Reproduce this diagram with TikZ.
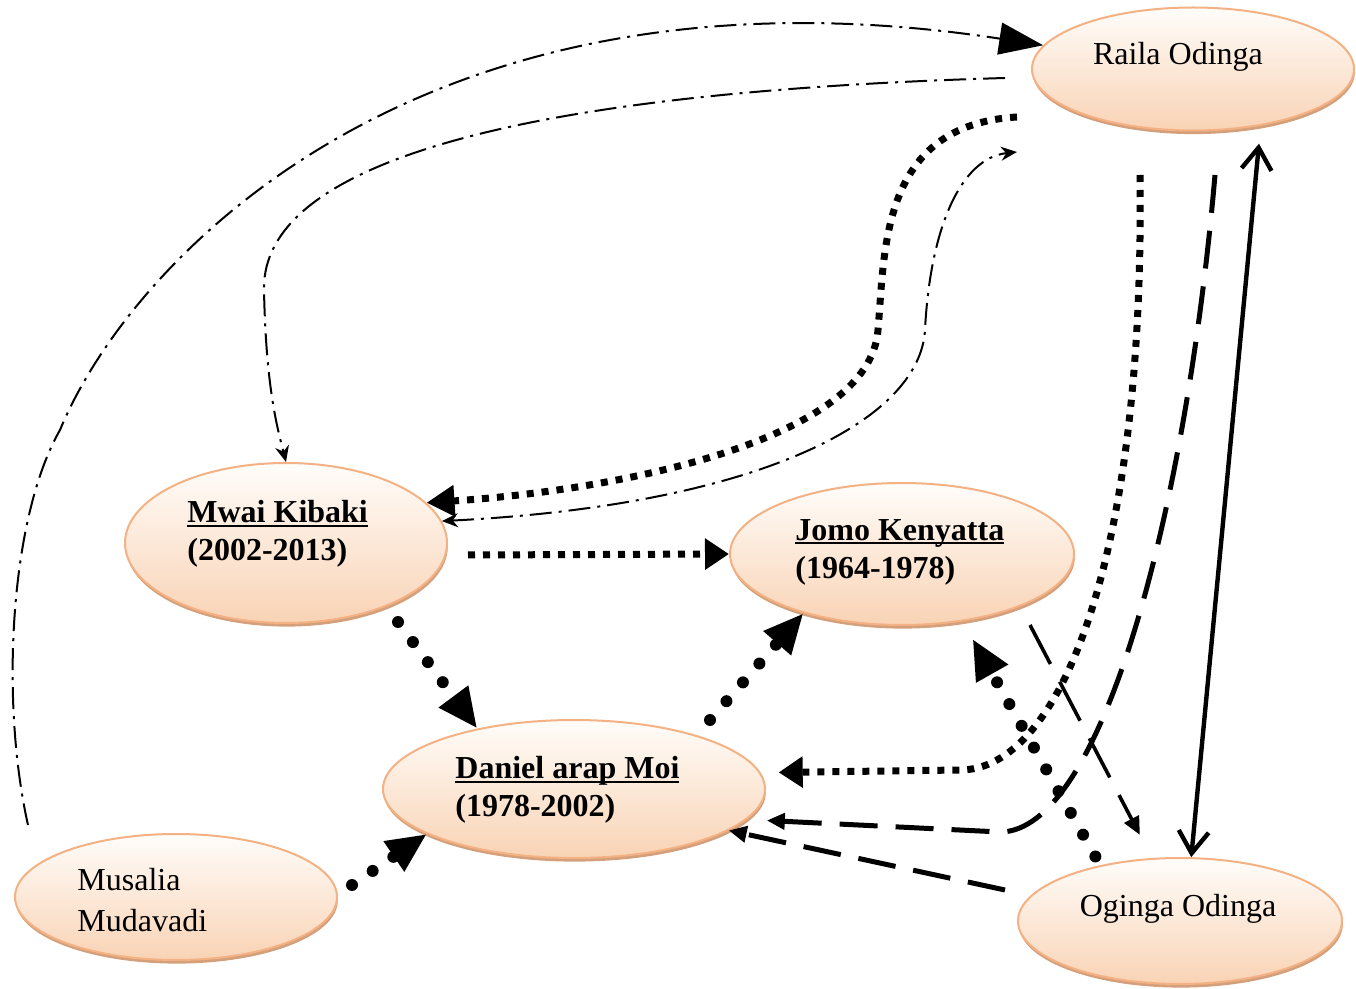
\documentclass[tikz,border=0pt]{standalone}
\usepackage{fontspec}
\setmainfont{Liberation Serif}
\usepackage{xcolor}
\usepackage{tikz}
\usetikzlibrary{shapes.geometric, arrows.meta, shadows}

\definecolor{peachline}{RGB}{244,177,131}
\definecolor{peachtop}{RGB}{255,253,250}
\definecolor{peachbot}{RGB}{249,211,181}
\definecolor{peachshadow}{RGB}{212,160,123}

% bold name with a heavier underline
\newcommand{\pname}[1]{\setbox0\hbox{\textbf{#1}}\rlap{\rule[-2.2pt]{\wd0}{1.1pt}}\box0}

\begin{document}
\begin{tikzpicture}[x=0.5pt, y=-0.5pt,
  pres/.style={ellipse, draw=peachline, line width=1pt, top color=peachtop,
    bottom color=peachbot, inner sep=0pt,
    drop shadow={shadow xshift=0.4pt, shadow yshift=-1.8pt, fill=peachshadow, opacity=1}},
  lbl/.style={inner sep=0pt, align=left, font=\fontsize{16}{19}\selectfont},
  ddline/.style={line width=1pt, dash pattern=on 11pt off 3.5pt on 1.5pt off 3.5pt},
  sqdots/.style={line width=3.5pt, dash pattern=on 3.5pt off 4pt},
  rddots/.style={line width=6pt, line cap=round, dash pattern=on 0pt off 12.5pt},
  longdash/.style={line width=2.5pt, dash pattern=on 19pt off 9pt},
  bigtip/.style={-{Triangle[length=20pt,width=17pt]}},
  smalltip/.style={-{Triangle[length=9pt,width=8pt]}},
  thintip/.style={-{Stealth[length=8pt,width=7pt]}}
]
\useasboundingbox (0,0) rectangle (1356,989);

% presidents and others
\node[pres, minimum width=161pt, minimum height=61.5pt] (R) at (1193,69) {};
\node[pres, minimum width=161pt, minimum height=80pt] (K) at (286,543) {};
\node[pres, minimum width=172pt, minimum height=71pt] (J) at (902,554) {};
\node[pres, minimum width=191pt, minimum height=69pt] (M) at (574,789) {};
\node[pres, minimum width=161pt, minimum height=63pt] (U) at (176,897) {};
\node[pres, minimum width=162pt, minimum height=63pt] (O) at (1180,921) {};

\node[lbl, anchor=base] (Rt) at (1178,65) {Raila Odinga};
\node[lbl, anchor=west] (Kt) at (187,534) {\pname{Mwai Kibaki}\\\textbf{(2002-2013)}};
\node[lbl, anchor=west] (Jt) at (795,552) {\pname{Jomo Kenyatta}\\\textbf{(1964-1978)}};
\node[lbl, anchor=west] (Mt) at (455,790) {\pname{Daniel arap Moi}\\\textbf{(1978-2002)}};
\node[lbl, anchor=west, font=\fontsize{16}{20.5}\selectfont] (Ut) at (77,900) {Musalia\\Mudavadi};
\node[lbl, anchor=base] (Ot) at (1178,916) {Oginga Odinga};

% loose ends
\coordinate (c1) at (28,825);
\coordinate (c2) at (1005,78);
\coordinate (c3) at (1017,117);
\coordinate (c4) at (1017,152);
\coordinate (c5) at (468,555);
\coordinate (c6) at (398,622);
\coordinate (c7) at (710,720);
\coordinate (c8) at (352,885);
\coordinate (c10) at (1140,175);
\coordinate (c11) at (1215,175);
\coordinate (c12) at (1005,890);
\coordinate (c13) at (1030,625);

% dash dot links
\draw[ddline, -{Triangle[length=22pt,width=16pt]}] (c1) .. controls (0,700) and (10,517) .. (60,430)
  .. controls (130,260) and (420,-50) .. (R.171);
\draw[ddline, thintip] (c2) .. controls (420,95) and (262,190) .. (264,290)
  .. controls (266,390) and (278,430) .. (K.north);
\draw[ddline, {Stealth[length=8pt,width=7pt]}-{Stealth[length=8pt,width=7pt]}] (K.8)
  .. controls (760,505) and (920,420) .. (925,330) .. controls (930,230) and (960,158) .. (c4);

% square dots
\draw[sqdots, -{Triangle[length=14pt,width=15pt]}] (c3) .. controls (880,125) and (885,250) .. (878,330)
  .. controls (870,440) and (620,490) .. (K.16);
\draw[sqdots, -{Triangle[length=12pt,width=15pt]}] (c5) -- (J.west);
\draw[sqdots, -{Triangle[length=12pt,width=15pt]}, shorten >=9pt] (c10)
  .. controls (1145,560) and (1060,770) .. (960,770) -- (M.5);

% round dots
\draw[rddots, bigtip] (c6) -- (M.148);
\draw[rddots, bigtip] (c7) -- (J.211);
\draw[rddots, bigtip] (c8) -- (M.197);
\draw[rddots, bigtip, shorten <=5pt, shorten >=10pt] (O.145) -- (J.312);

% long dashes
\draw[longdash, smalltip, shorten >=10pt] (c11) .. controls (1185,520) and (1100,832) .. (1000,832) -- (M.-10);
\draw[longdash, smalltip] (c12) -- (M.-15);
\draw[line width=1.8pt, dash pattern=on 22pt off 10pt, smalltip, shorten >=13pt] (c13) -- (O.114);

% solid
\draw[line width=2.2pt, {Straight Barb[length=11pt,width=15pt]}-{Straight Barb[length=11pt,width=15pt]},
  shorten >=9pt] (O.80) -- (R.-40);
\end{tikzpicture}
\end{document}
